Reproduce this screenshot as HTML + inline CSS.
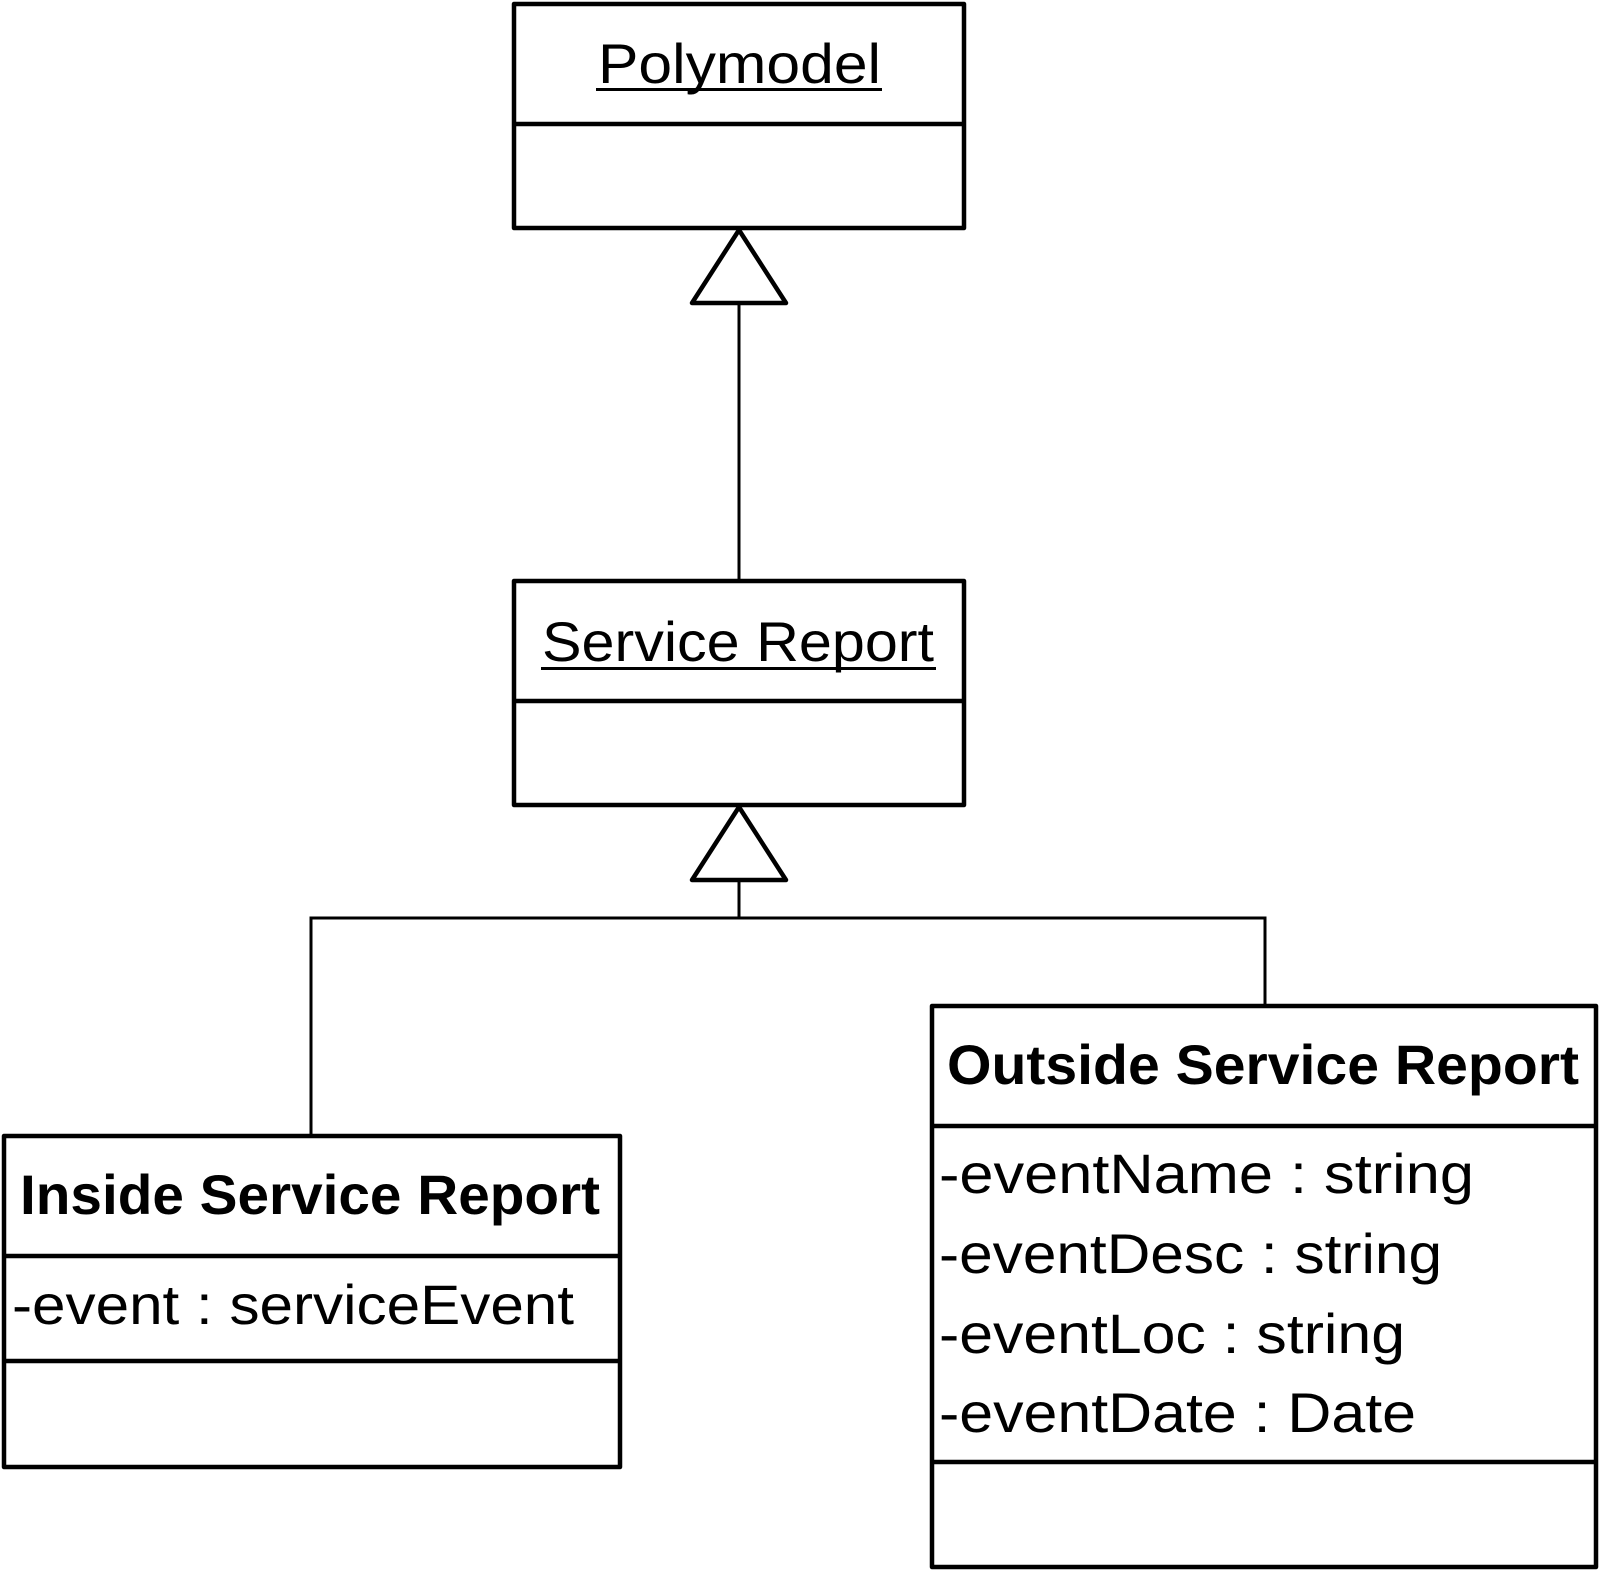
<!DOCTYPE html>
<html><head><style>html,body{margin:0;padding:0;background:#fff}</style></head>
<body>
<svg width="1601" height="1570" xmlns="http://www.w3.org/2000/svg" font-family="'Liberation Sans', sans-serif">
<g fill="none" stroke="#000" stroke-width="4.5" stroke-linejoin="round">
<rect x="514" y="4" width="450" height="224"/>
<line x1="514" y1="124" x2="964" y2="124"/>
<rect x="514" y="581" width="450" height="224"/>
<line x1="514" y1="701" x2="964" y2="701"/>
<rect x="4" y="1136" width="616" height="331"/>
<line x1="4" y1="1256" x2="620" y2="1256"/>
<line x1="4" y1="1361" x2="620" y2="1361"/>
<rect x="932" y="1006" width="664" height="561"/>
<line x1="932" y1="1126" x2="1596" y2="1126"/>
<line x1="932" y1="1462" x2="1596" y2="1462"/>
<polygon points="739,230 692,303 786,303"/>
<polygon points="739,807 692,880 786,880"/>
</g>
<g fill="none" stroke="#000" stroke-width="3">
<line x1="739" y1="303" x2="739" y2="580"/>
<line x1="739" y1="880" x2="739" y2="918"/>
<polyline points="311,1135 311,918 1265,918 1265,1005"/>
</g>
<g fill="#000" font-size="56">
<text x="598" y="83" textLength="283" lengthAdjust="spacingAndGlyphs">Polymodel</text>
<rect x="596" y="88" width="286" height="3"/>
<text x="542" y="661" textLength="392" lengthAdjust="spacingAndGlyphs">Service Report</text>
<rect x="541" y="667" width="395" height="3"/>
<text x="20" y="1214" font-weight="bold" textLength="580" lengthAdjust="spacingAndGlyphs">Inside Service Report</text>
<text x="12" y="1324" textLength="562" lengthAdjust="spacingAndGlyphs">-event : serviceEvent</text>
<text x="947" y="1084" font-weight="bold" textLength="632" lengthAdjust="spacingAndGlyphs">Outside Service Report</text>
<text x="939" y="1193" textLength="535" lengthAdjust="spacingAndGlyphs">-eventName : string</text>
<text x="939" y="1273" textLength="503" lengthAdjust="spacingAndGlyphs">-eventDesc : string</text>
<text x="939" y="1353" textLength="466" lengthAdjust="spacingAndGlyphs">-eventLoc : string</text>
<text x="939" y="1432" textLength="477" lengthAdjust="spacingAndGlyphs">-eventDate : Date</text>
</g>
</svg>
</body></html>
